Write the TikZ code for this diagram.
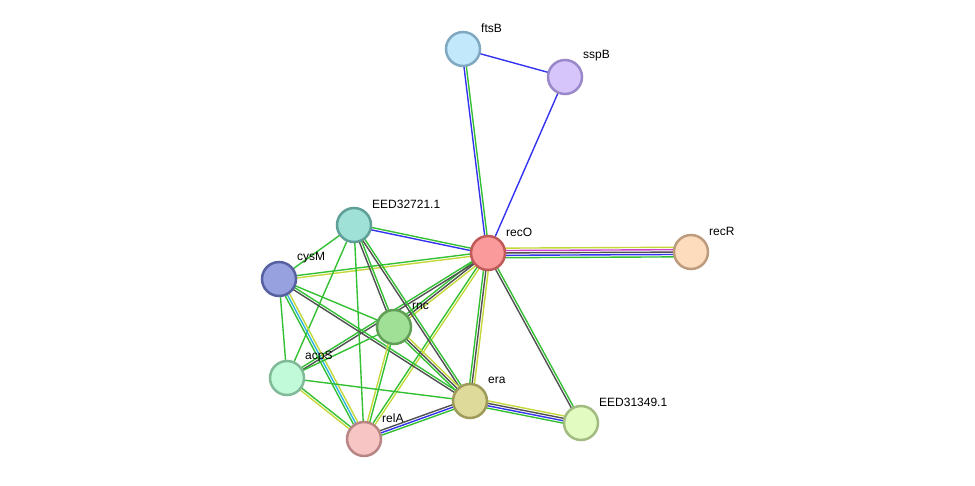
\documentclass[tikz,border=0pt]{standalone}
\usepackage{fontspec}
\setmainfont{Liberation Sans}
\usetikzlibrary{calc,backgrounds}
\definecolor{cgreen}{HTML}{33C033}
\definecolor{cblue}{HTML}{3333F0}
\definecolor{cdark}{HTML}{505050}
\definecolor{cyel}{HTML}{C4D83A}
\definecolor{cmag}{HTML}{D040D0}
\definecolor{ccyan}{HTML}{30B4E0}
\newcommand{\mkedge}[4]{%
  \foreach \cc [count=\ii] in {#4} {%
    \draw[edgeline,\cc] ($(#1)!{(\ii-(#3+1)/2)*2.4pt}!90:(#2)$) -- ($(#2)!{(\ii-(#3+1)/2)*2.4pt}!-90:(#1)$);
  }}
\newcommand{\prot}[6]{%
  \definecolor{f#1}{HTML}{#4}\definecolor{b#1}{HTML}{#5}%
  \node[protnode,fill=f#1,draw=b#1] (#1) at (#2,#3) {};
  \node[lbl] (l#1) at ($(#1)+(18,-21)$) {#6};}
\begin{document}
\begin{tikzpicture}[x=1pt,y=-1pt,
  protnode/.style={circle,minimum size=34pt,inner sep=0pt,line width=2.5pt},
  lbl/.style={anchor=west,inner sep=0pt,font=\fontsize{12}{14}\selectfont},
  edgeline/.style={line width=1.4pt}]
\useasboundingbox (0,0) rectangle (975,485);
\prot{ftsB}{463}{49}{C2E8FB}{80A8C0}{ftsB}
\prot{sspB}{565}{77}{D5C5FB}{9A88C8}{sspB}
\prot{Ea}{354}{225}{9FE0D7}{5F9F97}{EED32721.1}
\prot{recO}{488}{253}{FB9A9A}{C05A5A}{recO}
\prot{recR}{691}{252}{FDDCBD}{BD9C7D}{recR}
\prot{cysM}{279}{279}{97A1E0}{5760A0}{cysM}
\prot{rnc}{394}{327}{A0E096}{60A056}{rnc}
\prot{acpS}{287}{378}{C1FAD9}{81BA99}{acpS}
\prot{era}{470}{401}{DEDB9A}{9E9B5A}{era}
\prot{relA}{364}{439}{F8C5C5}{B88585}{relA}
\prot{Eb}{581}{423}{E1FBC1}{A1BB81}{EED31349.1}
\begin{pgfonlayer}{background}
\mkedge{ftsB}{sspB}{1}{cblue}
\mkedge{ftsB}{recO}{2}{cblue,cgreen}
\mkedge{sspB}{recO}{1}{cblue}
\mkedge{Ea}{recO}{2}{cblue,cgreen}
\mkedge{recO}{recR}{5}{cgreen,cblue,cdark,cmag,cyel}
\mkedge{cysM}{recO}{2}{cyel,cgreen}
\mkedge{recO}{rnc}{3}{cgreen,cdark,cyel}
\mkedge{recO}{acpS}{2}{cgreen,cdark}
\mkedge{recO}{era}{3}{cgreen,cdark,cyel}
\mkedge{recO}{relA}{2}{cgreen,cyel}
\mkedge{recO}{Eb}{2}{cdark,cgreen}
\mkedge{Ea}{cysM}{1}{cgreen}
\mkedge{Ea}{rnc}{2}{cdark,cgreen}
\mkedge{Ea}{era}{2}{cdark,cgreen}
\mkedge{Ea}{acpS}{1}{cgreen}
\mkedge{Ea}{relA}{1}{cgreen}
\mkedge{cysM}{rnc}{1}{cgreen}
\mkedge{cysM}{era}{2}{cdark,cgreen}
\mkedge{cysM}{acpS}{1}{cgreen}
\mkedge{cysM}{relA}{3}{cgreen,ccyan,cyel}
\mkedge{rnc}{acpS}{1}{cgreen}
\mkedge{rnc}{era}{3}{cgreen,cdark,cyel}
\mkedge{rnc}{relA}{2}{cyel,cgreen}
\mkedge{acpS}{era}{1}{cgreen}
\mkedge{acpS}{relA}{2}{cyel,cgreen}
\mkedge{era}{relA}{3}{cdark,cblue,cgreen}
\mkedge{era}{Eb}{4}{cgreen,cblue,cdark,cyel}
\end{pgfonlayer}
\end{tikzpicture}
\end{document}
